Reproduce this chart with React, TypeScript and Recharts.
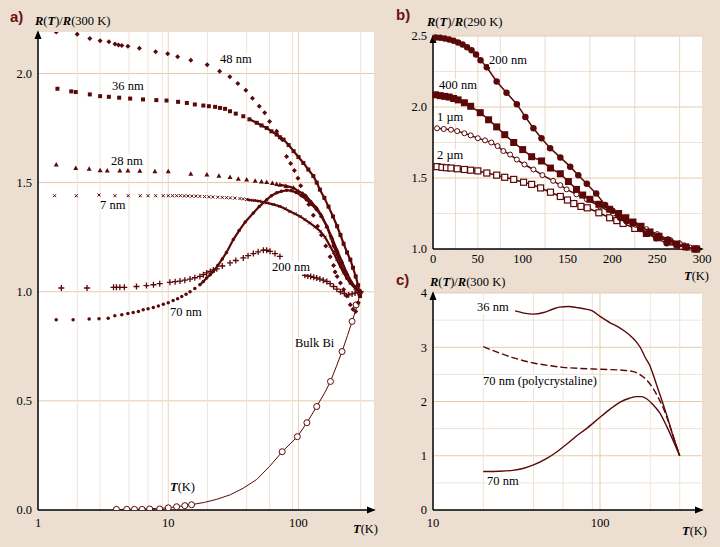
import React from "react";
import {
  ScatterChart,
  Scatter,
  LineChart,
  Line,
  XAxis,
  YAxis,
  CartesianGrid,
} from "recharts";

// ---- panel a: R(T)/R(300 K), log T ----
const a48T = [1.38, 2.0, 2.5, 3.0, 3.5, 3.9, 4.15, 4.4, 4.9, 6.0, 8.0, 9.9, 11.8, 14.9, 19.9, 24.8, 29.7, 34.2, 39.4, 44.3, 50, 55, 60, 68, 75, 81, 87, 93, 99, 104, 112, 120, 130, 140, 150, 162, 175, 186, 191, 198, 210, 222, 235, 250, 262, 275, 288, 300];
const a48V = [2.19, 2.18, 2.16, 2.15, 2.145, 2.135, 2.13, 2.128, 2.125, 2.116, 2.1, 2.09, 2.077, 2.06, 2.04, 2.01, 1.985, 1.954, 1.923, 1.887, 1.85, 1.82, 1.78, 1.735, 1.697, 1.62, 1.587, 1.556, 1.52, 1.486, 1.44, 1.4, 1.35, 1.3, 1.26, 1.21, 1.16, 1.12, 1.09, 1.07, 1.04, 1.01, 0.98, 0.94, 0.92, 0.91, 0.95, 1.0];

const a36T = [1.41, 1.8, 1.95, 2.5, 3.0, 3.5, 4.2, 5.1, 6.4, 8.1, 9.7, 11.9, 13.9, 16, 18.6, 20.5, 22.9, 25, 27.3, 29.8, 33, 37.7, 42, 47.8, 52, 57, 62, 68, 72, 76.8, 84, 91.7, 100, 109, 119, 130, 138, 146, 158, 170, 184, 198, 210, 222, 236, 250, 262, 275, 287, 297];
const a36V = [1.93, 1.918, 1.915, 1.904, 1.896, 1.893, 1.889, 1.885, 1.881, 1.878, 1.876, 1.87, 1.865, 1.858, 1.853, 1.85, 1.847, 1.842, 1.838, 1.827, 1.816, 1.804, 1.79, 1.774, 1.762, 1.75, 1.735, 1.72, 1.708, 1.697, 1.672, 1.644, 1.617, 1.59, 1.56, 1.53, 1.5, 1.468, 1.43, 1.39, 1.345, 1.3, 1.26, 1.22, 1.18, 1.147, 1.11, 1.07, 1.03, 0.98];

const a28T = [1.38, 1.95, 2.47, 3.0, 3.4, 4.25, 4.9, 6.05, 7.9, 10, 14.9, 19.8, 24.5, 29.8, 34.5, 40, 46.5, 52, 57, 63, 68, 72, 80, 91.6, 100, 108, 115, 126, 138, 150, 165, 180, 198, 215, 235, 258, 281, 300];
const a28V = [1.583, 1.567, 1.564, 1.557, 1.555, 1.555, 1.555, 1.554, 1.552, 1.552, 1.541, 1.537, 1.531, 1.526, 1.518, 1.514, 1.508, 1.505, 1.503, 1.498, 1.494, 1.49, 1.485, 1.476, 1.46, 1.45, 1.437, 1.41, 1.384, 1.35, 1.3, 1.25, 1.19, 1.14, 1.086, 1.04, 1.01, 1.0];

const a7T = [1.34, 1.97, 2.94, 3.9, 4.93, 6.1, 7.0, 8.0, 9.15, 10, 10.8, 11.6, 12.4, 13.3, 14.2, 15.2, 16.3, 17.5, 19, 20.5, 22, 24, 26, 28, 30, 32.5, 35.5, 37.7, 40, 42.7, 46, 50, 57, 64, 72, 79, 86, 94, 103, 112, 122, 134, 147, 160, 175, 186, 197, 210, 222, 236, 250, 272, 297];
const a7V = [1.44, 1.44, 1.443, 1.44, 1.44, 1.44, 1.44, 1.44, 1.44, 1.44, 1.44, 1.44, 1.44, 1.439, 1.439, 1.438, 1.438, 1.437, 1.436, 1.435, 1.434, 1.433, 1.432, 1.431, 1.43, 1.429, 1.427, 1.425, 1.423, 1.42, 1.418, 1.415, 1.407, 1.4, 1.391, 1.38, 1.368, 1.357, 1.345, 1.33, 1.315, 1.297, 1.277, 1.25, 1.208, 1.18, 1.147, 1.115, 1.086, 1.06, 1.04, 1.015, 0.994];

const a70T = [1.38, 1.86, 2.47, 2.94, 3.46, 3.89, 4.4, 4.9, 5.38, 5.9, 6.42, 7.0, 7.68, 8.4, 9.17, 10, 10.9, 11.8, 12.7, 13.7, 14.7, 16, 17.5, 18.6, 19.7, 21, 22.2, 24, 26, 28, 31.6, 35, 39, 45, 50, 57, 62, 68, 74, 81, 88, 96, 105, 115, 126, 138, 150, 165, 176, 186, 198, 210, 222, 235, 250, 272, 297];
const a70V = [0.872, 0.872, 0.875, 0.876, 0.879, 0.89, 0.895, 0.9, 0.905, 0.91, 0.917, 0.922, 0.928, 0.935, 0.943, 0.95, 0.96, 0.968, 0.978, 0.988, 1.0, 1.015, 1.032, 1.047, 1.063, 1.078, 1.093, 1.12, 1.15, 1.18, 1.239, 1.28, 1.32, 1.361, 1.39, 1.422, 1.44, 1.453, 1.46, 1.465, 1.463, 1.455, 1.44, 1.422, 1.4, 1.376, 1.345, 1.3, 1.255, 1.21, 1.17, 1.13, 1.097, 1.063, 1.04, 1.024, 1.0];

const a200T = [1.51, 2.38, 3.8, 4.0, 4.25, 4.6, 5.7, 6.8, 7.7, 8.6, 10.3, 11.3, 12.3, 13.4, 14.7, 16, 17.5, 18.6, 19.7, 21, 22.2, 23.6, 26, 29.8, 33, 37.7, 41, 45, 49, 53.8, 57, 60.5, 66, 72, 112, 118, 124, 131, 138, 146, 155, 165, 175, 186, 197, 210, 225, 243, 258, 272, 286, 300];
const a200V = [1.017, 1.017, 1.02, 1.02, 1.02, 1.02, 1.024, 1.028, 1.032, 1.037, 1.043, 1.046, 1.049, 1.053, 1.058, 1.064, 1.07, 1.078, 1.086, 1.093, 1.1, 1.105, 1.118, 1.132, 1.143, 1.155, 1.165, 1.175, 1.183, 1.19, 1.19, 1.185, 1.175, 1.162, 1.075, 1.072, 1.07, 1.066, 1.063, 1.058, 1.053, 1.047, 1.037, 1.024, 1.012, 1.0, 0.992, 0.986, 0.99, 0.994, 0.997, 1.0];

const bulkLineT = [4, 6, 8, 10, 12, 15, 19, 23.6, 30, 37.7, 47.8, 60, 75, 98, 116, 138, 160, 176, 196, 216, 238, 258, 277, 300];
const bulkLineV = [0.002, 0.004, 0.007, 0.01, 0.016, 0.024, 0.035, 0.049, 0.07, 0.1, 0.14, 0.2, 0.267, 0.336, 0.4, 0.474, 0.54, 0.589, 0.66, 0.726, 0.8, 0.864, 0.92, 1.0];
const bulkDotT = [4.0, 4.8, 5.5, 6.3, 7.2, 8.6, 10, 11.6, 13.4, 15.1, 75, 98, 116, 138, 176, 216, 258, 277];
const bulkDotV = [0.003, 0.003, 0.003, 0.003, 0.005, 0.005, 0.01, 0.015, 0.02, 0.024, 0.267, 0.336, 0.4, 0.474, 0.589, 0.726, 0.864, 0.94];

// ---- panel b: R(T)/R(290 K), linear T ----
const b200T = [3, 8, 13, 18, 23, 28, 33, 38, 43, 48, 53, 60, 71, 82, 93.5, 103, 112, 121, 130.6, 142, 153, 162, 171.5, 182, 192, 200, 208.6, 216, 223, 231, 238, 249, 260.6, 272, 283, 294];
const b200V = [2.49, 2.487, 2.483, 2.476, 2.466, 2.455, 2.44, 2.42, 2.4, 2.37, 2.33, 2.28, 2.18, 2.1, 2.02, 1.93, 1.85, 1.78, 1.71, 1.645, 1.58, 1.52, 1.46, 1.39, 1.31, 1.27, 1.22, 1.195, 1.18, 1.14, 1.11, 1.075, 1.04, 1.025, 1.01, 1.0];
const b400T = [3, 8, 13, 18, 23, 28, 35, 42, 52.7, 62, 71, 80, 90, 100, 110, 121, 131, 142, 151, 160, 167, 175, 185, 197, 207, 215, 223, 232, 242, 252, 262, 272, 282, 292];
const b400V = [2.086, 2.08, 2.075, 2.07, 2.06, 2.05, 2.03, 2.005, 1.96, 1.91, 1.86, 1.805, 1.75, 1.7, 1.65, 1.62, 1.57, 1.53, 1.475, 1.42, 1.38, 1.35, 1.315, 1.28, 1.25, 1.22, 1.19, 1.16, 1.12, 1.09, 1.06, 1.035, 1.015, 1.0];
const b1umT = [4.5, 12, 20, 27, 35, 42, 50, 58, 65, 72, 78.5, 86, 93.5, 102, 112, 122, 134, 142, 149, 160, 171.5, 186, 201, 215, 226, 238, 250, 262, 275, 287];
const b1umV = [1.85, 1.845, 1.84, 1.83, 1.815, 1.8, 1.78, 1.765, 1.75, 1.725, 1.69, 1.665, 1.63, 1.595, 1.56, 1.52, 1.48, 1.45, 1.42, 1.385, 1.35, 1.3, 1.25, 1.2, 1.17, 1.14, 1.105, 1.07, 1.04, 1.01];
const b2umT = [4.5, 10, 15, 20, 27, 35, 42, 50, 60, 71, 80, 90, 101, 110, 120, 131, 142, 150, 157, 165, 172, 185, 197, 205, 212, 225, 238, 250, 264, 278, 294];
const b2umV = [1.58, 1.575, 1.572, 1.57, 1.565, 1.56, 1.555, 1.55, 1.535, 1.52, 1.505, 1.49, 1.47, 1.455, 1.43, 1.4, 1.37, 1.345, 1.32, 1.3, 1.29, 1.255, 1.22, 1.2, 1.18, 1.145, 1.11, 1.08, 1.05, 1.02, 1.0];

// ---- panel c: R(T)/R(300 K), log T ----
const c36T = [31, 35, 40, 46, 52, 57, 65, 73, 80, 90, 100, 115, 126, 140, 151, 165, 174, 186, 199, 210, 219, 230, 240, 255, 270, 285, 300];
const c36V = [3.67, 3.63, 3.61, 3.64, 3.7, 3.74, 3.75, 3.73, 3.71, 3.67, 3.57, 3.45, 3.39, 3.3, 3.22, 3.1, 3.0, 2.82, 2.66, 2.46, 2.29, 2.1, 1.93, 1.68, 1.42, 1.2, 1.0];
const cPolyT = [20, 30, 40, 50, 60, 75, 91, 110, 132, 158, 182, 196, 208, 225, 240, 260, 280, 300];
const cPolyV = [3.01, 2.81, 2.71, 2.66, 2.63, 2.61, 2.6, 2.59, 2.58, 2.55, 2.45, 2.35, 2.24, 2.05, 1.87, 1.58, 1.28, 1.0];
const c70T = [20, 25, 30, 35, 40, 48, 55, 63.6, 72, 83, 100, 115, 132, 150, 166, 178, 190, 205, 229, 250, 275, 300];
const c70V = [0.71, 0.715, 0.73, 0.77, 0.83, 0.95, 1.07, 1.22, 1.36, 1.5, 1.71, 1.86, 1.99, 2.06, 2.09, 2.09, 2.05, 1.96, 1.78, 1.55, 1.27, 1.0];

// grid positions
const aGridMinorX = [2, 3, 4, 5, 6, 7, 8, 9, 20, 30, 40, 50, 60, 70, 80, 90, 200, 300];
const aGridMajorX = [10, 100];
const aGridY = [0.5, 1.0, 1.5, 2.0];
const bGridX = [25, 50, 75, 100, 125, 150, 175, 200, 225, 250, 275];
const bGridMinorY = [1.25, 1.75, 2.25];
const bGridMajorY = [1.5, 2.0, 2.5];
const cGridMinorX = [20, 30, 40, 50, 60, 70, 80, 90, 200, 300];
const cGridMajorX = [100];
const cGridMinorY = [0.5, 1.5, 2.5, 3.5];
const cGridMajorY = [1, 2, 3, 4];

const C = "#5a0808";
const SERIF = '"Liberation Serif", "DejaVu Serif", serif';
const BG = "#ecdfd2";
const TAN = "#e4cba9";
const LIGHT = "#efe3d8";

const zip = (t: number[], v: number[]) => t.map((x, i) => ({ t: x, v: v[i] }));

type Kind = "diamond" | "square" | "triangle" | "x" | "plus" | "dot" | "circle" | "ocircle" | "osquare" | "none";

function marker(kind: Kind, s: number) {
  return (p: any) => {
    const { cx, cy } = p;
    if (cx == null || cy == null || kind === "none") return <g />;
    const h = s / 2;
    switch (kind) {
      case "diamond":
        return <path d={`M${cx},${cy - h}L${cx + h},${cy}L${cx},${cy + h}L${cx - h},${cy}Z`} fill={C} />;
      case "square":
        return <rect x={cx - h} y={cy - h} width={s} height={s} fill={C} />;
      case "triangle":
        return <path d={`M${cx},${cy - h}L${cx + h},${cy + h * 0.8}L${cx - h},${cy + h * 0.8}Z`} fill={C} />;
      case "x":
        return <path d={`M${cx - h},${cy - h}L${cx + h},${cy + h}M${cx - h},${cy + h}L${cx + h},${cy - h}`} stroke={C} strokeWidth={1} />;
      case "plus":
        return <path d={`M${cx - h},${cy}L${cx + h},${cy}M${cx},${cy - h}L${cx},${cy + h}`} stroke={C} strokeWidth={1.3} />;
      case "dot":
        return <circle cx={cx} cy={cy} r={h} fill={C} />;
      case "circle":
        return <circle cx={cx} cy={cy} r={h} fill={C} />;
      case "ocircle":
        return <circle cx={cx} cy={cy} r={h} fill="#fff" stroke={C} strokeWidth={1} />;
      case "osquare":
        return <rect x={cx - h} y={cy - h} width={s} height={s} fill="#fff" stroke={C} strokeWidth={1.2} />;
    }
    return <g />;
  };
}

const tickStyle = { fontSize: 12.5, fill: "#000", fontFamily: SERIF };
const axisLineY = { stroke: "#000", strokeWidth: 1.5, markerStart: "url(#arrowHead)" };
const axisLineX = { stroke: "#000", strokeWidth: 1.5, markerEnd: "url(#arrowHead)" };

function Rt({ k }: { k: string }) {
  return (
    <span>
      <b><i>R</i></b>(<b><i>T</i></b>)/<b><i>R</i></b>({k} K)
    </span>
  );
}

function TK() {
  return (
    <span>
      <b><i>T</i></b>(K)
    </span>
  );
}

const pos = (left: number, top: number, white = true): React.CSSProperties => ({
  position: "absolute",
  left,
  top,
  fontFamily: SERIF,
  fontSize: 12.5,
  lineHeight: "13px",
  whiteSpace: "nowrap",
  background: white ? "#fff" : "transparent",
  color: "#000",
});

const letter = (left: number, top: number): React.CSSProperties => ({
  position: "absolute",
  left,
  top,
  fontFamily: '"Liberation Sans", Arial, sans-serif',
  fontWeight: 700,
  fontSize: 15,
  color: "#6b1212",
});

export default function App() {
  const line2 = { stroke: C, strokeWidth: 2.2 };
  return (
    <div style={{ position: "absolute", left: 0, top: 0, width: 720, height: 547, background: BG, overflow: "hidden" }}>
      <svg width={0} height={0} style={{ position: "absolute" }}>
        <defs>
          <marker id="arrowHead" viewBox="0 0 10 10" refX="8" refY="5" markerWidth="9" markerHeight="9" markerUnits="userSpaceOnUse" orient="auto-start-reverse">
            <path d="M0,1 L10,5 L0,9 Z" fill="#000" />
          </marker>
        </defs>
      </svg>

      {/* panel a */}
      <div style={{ position: "absolute", left: 0, top: 0 }}>
        <ScatterChart width={380} height={547} margin={{ top: 32, right: 6, bottom: 7, left: 8 }}>
          <CartesianGrid fill="#fff" vertical={false} horizontalValues={aGridY} stroke={TAN} />
          <CartesianGrid horizontal={false} verticalValues={aGridMinorX} stroke={LIGHT} />
          <CartesianGrid horizontal={false} verticalValues={aGridMajorX} stroke="#e6d4c0" />
          <XAxis type="number" dataKey="t" scale="log" domain={[1, 380]} allowDataOverflow ticks={[1, 10, 100]} height={30} tickLine={false} tick={tickStyle} axisLine={axisLineX} />
          <YAxis type="number" dataKey="v" domain={[0, 2.19]} allowDataOverflow ticks={[0, 0.5, 1, 1.5, 2]} tickFormatter={(v: number) => v.toFixed(1)} width={30} tickLine={false} tickSize={4} tick={tickStyle} axisLine={axisLineY} />
          <Scatter data={zip(bulkLineT, bulkLineV)} line={{ stroke: C, strokeWidth: 1 }} shape={marker("none", 0)} isAnimationActive={false} />
          <Scatter data={zip(bulkDotT, bulkDotV)} shape={marker("ocircle", 6)} isAnimationActive={false} />
          <Scatter data={zip(a36T, a36V).filter((d) => d.t >= 40)} line={line2} shape={marker("none", 0)} isAnimationActive={false} />
          <Scatter data={zip(a28T, a28V).filter((d) => d.t >= 70)} line={line2} shape={marker("none", 0)} isAnimationActive={false} />
          <Scatter data={zip(a7T, a7V).filter((d) => d.t >= 40)} line={line2} shape={marker("none", 0)} isAnimationActive={false} />
          <Scatter data={zip(a70T, a70V).filter((d) => d.t >= 17)} line={line2} shape={marker("none", 0)} isAnimationActive={false} />
          <Scatter data={zip(a48T, a48V)} shape={marker("diamond", 5)} isAnimationActive={false} />
          <Scatter data={zip(a36T, a36V)} shape={marker("square", 4)} isAnimationActive={false} />
          <Scatter data={zip(a28T, a28V)} shape={marker("triangle", 5)} isAnimationActive={false} />
          <Scatter data={zip(a7T, a7V)} shape={marker("x", 3)} isAnimationActive={false} />
          <Scatter data={zip(a70T, a70V)} shape={marker("dot", 3.5)} isAnimationActive={false} />
          <Scatter data={zip(a200T, a200V)} shape={marker("plus", 6)} isAnimationActive={false} />
        </ScatterChart>
      </div>

      {/* panel b */}
      <div style={{ position: "absolute", left: 380, top: 0 }}>
        <ScatterChart width={340} height={280} margin={{ top: 36, right: 18, bottom: 11, left: 23 }}>
          <CartesianGrid fill="#fff" vertical={false} horizontalValues={bGridMinorY} stroke={LIGHT} />
          <CartesianGrid vertical={false} horizontalValues={bGridMajorY} stroke={TAN} />
          <CartesianGrid horizontal={false} verticalValues={bGridX} stroke="#ead9c6" />
          <XAxis type="number" dataKey="t" domain={[0, 300]} ticks={[0, 50, 100, 150, 200, 250, 300]} height={20} tickLine={false} tickSize={3} tick={tickStyle} axisLine={axisLineX} />
          <YAxis type="number" dataKey="v" domain={[1, 2.5]} ticks={[1, 1.5, 2, 2.5]} tickFormatter={(v: number) => v.toFixed(1)} width={30} tickLine={false} tickSize={4} tick={tickStyle} axisLine={axisLineY} />
          <Scatter data={zip(b2umT, b2umV)} line={{ stroke: C, strokeWidth: 1.5 }} shape={marker("osquare", 6)} isAnimationActive={false} />
          <Scatter data={zip(b1umT, b1umV)} line={{ stroke: C, strokeWidth: 1.5 }} shape={marker("ocircle", 5)} isAnimationActive={false} />
          <Scatter data={zip(b400T, b400V)} line={{ stroke: C, strokeWidth: 1.5 }} shape={marker("square", 7)} isAnimationActive={false} />
          <Scatter data={zip(b200T, b200V)} line={{ stroke: C, strokeWidth: 1.5 }} shape={marker("circle", 6.5)} isAnimationActive={false} />
        </ScatterChart>
      </div>

      {/* panel c */}
      <div style={{ position: "absolute", left: 380, top: 270 }}>
        <LineChart width={340} height={277} margin={{ top: 23, right: 18, bottom: 7, left: 23 }}>
          <CartesianGrid fill="#fff" vertical={false} horizontalValues={cGridMinorY} stroke={LIGHT} />
          <CartesianGrid vertical={false} horizontalValues={cGridMajorY} stroke={TAN} />
          <CartesianGrid horizontal={false} verticalValues={cGridMinorX} stroke={LIGHT} />
          <CartesianGrid horizontal={false} verticalValues={cGridMajorX} stroke={TAN} />
          <XAxis type="number" dataKey="t" scale="log" domain={[10, 408]} allowDataOverflow ticks={[10, 100]} height={30} tickLine={false} tick={tickStyle} axisLine={axisLineX} />
          <YAxis type="number" dataKey="v" domain={[0, 4]} ticks={[0, 1, 2, 3, 4]} width={30} tickLine={false} tickSize={4} tick={tickStyle} axisLine={axisLineY} />
          <Line data={zip(c36T, c36V)} dataKey="v" type="monotone" stroke={C} strokeWidth={1.4} dot={false} isAnimationActive={false} />
          <Line data={zip(cPolyT, cPolyV)} dataKey="v" type="monotone" stroke={C} strokeWidth={1.4} strokeDasharray="7 3" dot={false} isAnimationActive={false} />
          <Line data={zip(c70T, c70V)} dataKey="v" type="monotone" stroke={C} strokeWidth={1.4} dot={false} isAnimationActive={false} />
        </LineChart>
      </div>

      {/* panel letters and axis titles */}
      <div style={letter(10, 8)}>a)</div>
      <div style={letter(396, 6)}>b)</div>
      <div style={letter(396, 271)}>c)</div>
      <div style={pos(35, 15, false)}><Rt k="300" /></div>
      <div style={pos(427, 16, false)}><Rt k="290" /></div>
      <div style={pos(430, 276, false)}><Rt k="300" /></div>
      <div style={pos(353, 523, false)}><TK /></div>
      <div style={pos(684, 270, false)}><TK /></div>
      <div style={pos(682, 525, false)}><TK /></div>

      {/* panel a labels */}
      <div style={pos(220, 53)}>48 nm</div>
      <div style={pos(112, 80)}>36 nm</div>
      <div style={pos(111, 155)}>28 nm</div>
      <div style={pos(100, 199)}>7 nm</div>
      <div style={pos(272, 261)}>200 nm</div>
      <div style={pos(170, 306)}>70 nm</div>
      <div style={pos(295, 337)}>Bulk Bi</div>
      <div style={pos(170, 481)}><TK /></div>

      {/* panel b labels */}
      <div style={pos(489, 54)}>200 nm</div>
      <div style={pos(439, 79)}>400 nm</div>
      <div style={pos(437, 111)}>1 µm</div>
      <div style={pos(437, 149)}>2 µm</div>

      {/* panel c labels */}
      <div style={pos(477, 301)}>36 nm</div>
      <div style={pos(483, 375)}>70 nm (polycrystaline)</div>
      <div style={pos(487, 475)}>70 nm</div>
    </div>
  );
}
